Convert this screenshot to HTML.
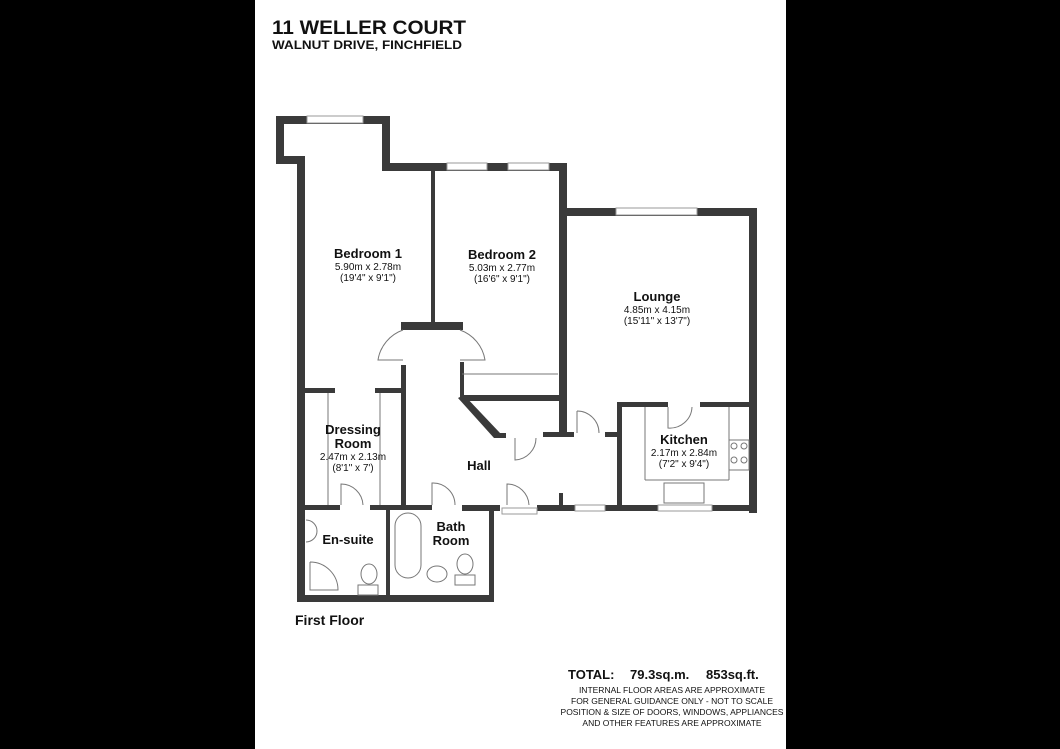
<!DOCTYPE html>
<html><head><meta charset="utf-8"><style>
html,body{margin:0;padding:0;background:#000;}
svg{display:block;}
text{font-family:"Liberation Sans","DejaVu Sans",sans-serif;fill:#111;}
.b{font-weight:bold;}
</style></head><body>
<svg width="1060" height="749" viewBox="0 0 1060 749" xmlns="http://www.w3.org/2000/svg">
<rect x="0" y="0" width="1060" height="749" fill="#000"/>
<rect x="255" y="0" width="531" height="749" fill="#fff"/>
<text x="272" y="34" class="b" font-size="19" textLength="194" lengthAdjust="spacingAndGlyphs">11 WELLER COURT</text>
<text x="272" y="49" class="b" font-size="12" textLength="190" lengthAdjust="spacingAndGlyphs">WALNUT DRIVE, FINCHFIELD</text>

<g fill="#3a3a3a">
<rect x="276" y="116" width="114" height="8"/>
<rect x="276" y="116" width="8" height="48"/>
<rect x="276" y="156" width="29" height="8"/>
<rect x="297" y="156" width="8" height="446"/>
<rect x="382" y="116" width="8" height="55"/>
<rect x="382" y="163" width="185" height="8"/>
<rect x="431" y="163" width="4" height="160"/>
<rect x="559" y="163" width="8" height="270"/>
<rect x="559" y="208" width="198" height="8"/>
<rect x="749" y="208" width="8" height="305"/>
<rect x="401" y="322" width="62" height="8"/>
<rect x="460" y="362" width="4" height="38"/>
<rect x="462" y="395" width="98" height="6"/>
<polygon points="458,398 464,395 500,433 500,438 494,438"/>
<rect x="494" y="433" width="12" height="5"/>
<rect x="543" y="432" width="31" height="5"/>
<rect x="305" y="388" width="30" height="5"/>
<rect x="375" y="388" width="26" height="5"/>
<rect x="401" y="365" width="5" height="145"/>
<rect x="297" y="505" width="43" height="5"/>
<rect x="370" y="505" width="36" height="5"/>
<rect x="386" y="505" width="46" height="5"/>
<rect x="462" y="505" width="38" height="6"/>
<rect x="386" y="505" width="4" height="94"/>
<rect x="489" y="505" width="5" height="97"/>
<rect x="297" y="595" width="197" height="7"/>
<rect x="537" y="505" width="38" height="6"/>
<rect x="605" y="505" width="53" height="6"/>
<rect x="712" y="505" width="45" height="6"/>
<rect x="559" y="493" width="4" height="14"/>
<rect x="617" y="402" width="5" height="109"/>
<rect x="617" y="402" width="51" height="5"/>
<rect x="700" y="402" width="57" height="5"/>
<rect x="605" y="432" width="12" height="5"/>
</g>
<g fill="#fff" stroke="#999" stroke-width="1">
<rect x="307" y="116" width="56" height="7"/>
<rect x="447" y="163" width="40" height="7"/>
<rect x="508" y="163" width="41" height="7"/>
<rect x="616" y="208" width="81" height="7"/>
<rect x="575" y="505" width="30" height="6"/>
<rect x="658" y="505" width="54" height="6"/>
<rect x="502" y="508" width="35" height="6"/>
</g>
<g fill="none" stroke="#777" stroke-width="1">
<path d="M403 330 A38 38 0 0 0 378 360 L403 360"/>
<path d="M460 330 A38 38 0 0 1 485 360 L460 360"/>
<line x1="462" y1="374" x2="558" y2="374"/>
<path d="M515 438 L515 460 A22 22 0 0 0 536 438"/>
<path d="M577 411 A22 22 0 0 1 599 433"/>
<line x1="577" y1="411" x2="577" y2="433"/>
<path d="M341 505 L341 484 A22 22 0 0 1 363 505"/>
<path d="M432 505 L432 483 A22 22 0 0 1 455 505"/>
<path d="M507 505 L507 484 A22 22 0 0 1 529 505"/>
<path d="M668 407 L668 428 A22 22 0 0 0 692 407"/>
<rect x="395" y="513" width="26" height="65" rx="13"/>
<ellipse cx="437" cy="574" rx="10" ry="8"/>
<ellipse cx="465" cy="564" rx="8" ry="10"/>
<rect x="455" y="575" width="20" height="10"/>
<ellipse cx="369" cy="574" rx="8" ry="10"/>
<rect x="358" y="585" width="20" height="10"/>
<path d="M310 562 L310 590 L338 590 A28 28 0 0 0 310 562"/>
<path d="M306 520 A10 10 0 0 1 306 542"/>
<rect x="729" y="440" width="20" height="30"/>
<circle cx="734" cy="446" r="3"/><circle cx="744" cy="446" r="3"/>
<circle cx="734" cy="460" r="3"/><circle cx="744" cy="460" r="3"/>
<rect x="664" y="483" width="40" height="20"/>
<line x1="645" y1="407" x2="645" y2="480"/>
<line x1="645" y1="480" x2="729" y2="480"/>
<line x1="729" y1="407" x2="729" y2="480"/>
<line x1="328" y1="393" x2="328" y2="505"/>
<line x1="380" y1="393" x2="380" y2="505"/>
</g>

<g text-anchor="middle">
<text x="368" y="258" class="b" font-size="13">Bedroom 1</text>
<text x="368" y="270" font-size="10">5.90m x 2.78m</text>
<text x="368" y="281" font-size="10">(19'4" x 9'1")</text>
<text x="502" y="259" class="b" font-size="13">Bedroom 2</text>
<text x="502" y="271" font-size="10">5.03m x 2.77m</text>
<text x="502" y="282" font-size="10">(16'6" x 9'1")</text>
<text x="657" y="301" class="b" font-size="13">Lounge</text>
<text x="657" y="313" font-size="10">4.85m x 4.15m</text>
<text x="657" y="324" font-size="10">(15'11" x 13'7")</text>
<text x="353" y="434" class="b" font-size="13">Dressing</text>
<text x="353" y="448" class="b" font-size="13">Room</text>
<text x="353" y="460" font-size="10">2.47m x 2.13m</text>
<text x="353" y="471" font-size="10">(8'1" x 7')</text>
<text x="479" y="470" class="b" font-size="13">Hall</text>
<text x="684" y="444" class="b" font-size="13">Kitchen</text>
<text x="684" y="456" font-size="10">2.17m x 2.84m</text>
<text x="684" y="467" font-size="10">(7'2" x 9'4")</text>
<text x="451" y="531" class="b" font-size="13">Bath</text>
<text x="451" y="545" class="b" font-size="13">Room</text>
<text x="348" y="544" class="b" font-size="13">En-suite</text>
</g>
<text x="295" y="625" class="b" font-size="14">First Floor</text>
<text x="568" y="679" class="b" font-size="13">TOTAL:</text>
<text x="630" y="679" class="b" font-size="13">79.3sq.m.</text>
<text x="706" y="679" class="b" font-size="13">853sq.ft.</text>
<g text-anchor="middle" font-size="8.5">
<text x="672" y="693">INTERNAL FLOOR AREAS ARE APPROXIMATE</text>
<text x="672" y="704">FOR GENERAL GUIDANCE ONLY - NOT TO SCALE</text>
<text x="672" y="715">POSITION &amp; SIZE OF DOORS, WINDOWS, APPLIANCES</text>
<text x="672" y="726">AND OTHER FEATURES ARE APPROXIMATE</text>
</g>
</svg>
</body></html>
